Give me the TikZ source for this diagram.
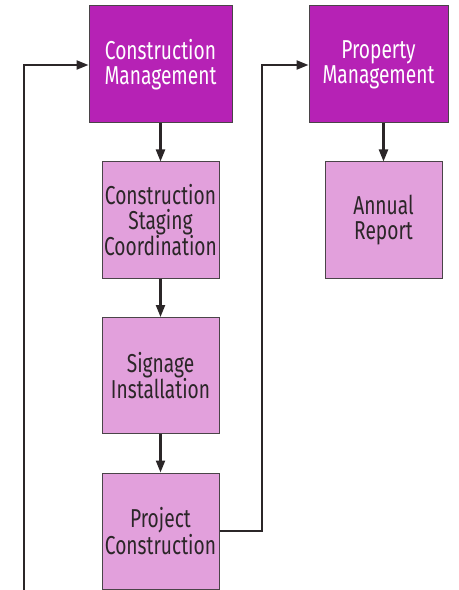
\documentclass[tikz,border=0pt]{standalone}
\usepackage{fontspec}
\setmainfont{Fira Sans}[FakeStretch=0.74]
\usetikzlibrary{arrows.meta}
\definecolor{mainbox}{HTML}{B622B5}
\definecolor{subbox}{HTML}{E2A0DC}
\definecolor{edge}{HTML}{4A4448}
\definecolor{ink}{HTML}{2B2628}
\tikzset{
  x=1bp, y=-1bp,
  box/.style={draw=edge, line width=1bp, minimum height=117bp, inner sep=0pt,
    align=center, font=\fontsize{26}{25}\selectfont},
  headbox/.style={box, fill=mainbox, text=white, minimum width=143bp},
  taskbox/.style={box, fill=subbox, text=ink, minimum width=117bp, minimum height=116bp},
  flow/.style={draw=ink, line width=2.2bp, -{Triangle[length=12bp,width=9bp]}},
}
\begin{document}
\begin{tikzpicture}
\useasboundingbox (0,0) rectangle (459,590);
\begin{scope}
\clip (0,0) rectangle (459,590);
% column heads
\node[headbox] (cm) at (160.5,64.5) {Construction\\Management};
\node[headbox, minimum width=139bp] (pm) at (378.5,64.5) {Property\\Management};
% construction tasks
\node[taskbox] (cs) at (160.5,220) {Construction\\Staging\\Coordination};
\node[taskbox] (si) at (160.5,375.5) {Signage\\Installation};
\node[taskbox] (pc) at (160.5,531) {Project\\Construction};
% property tasks
\node[taskbox] (ar) at (383.5,220) {Annual\\Report};
% connectors
\draw[flow] (cm.south -| cs.north) -- (cs.north);
\draw[flow] (cs) -- (si);
\draw[flow] (si) -- (pc);
\draw[flow] (pm.south -| ar.north) -- (ar.north);
\coordinate (loopstart) at (24,592);
\coordinate (loopcorner) at (24,65);
\draw[flow] (loopstart) -- (loopcorner) -- (cm.west |- loopcorner);
\coordinate (pcright) at (262,531);
\coordinate (pmcorner) at (262,65);
\draw[flow] (pc.east |- pcright) -- (pcright) -- (pmcorner) -- (pm.west |- pmcorner);
\end{scope}
\end{tikzpicture}
\end{document}
